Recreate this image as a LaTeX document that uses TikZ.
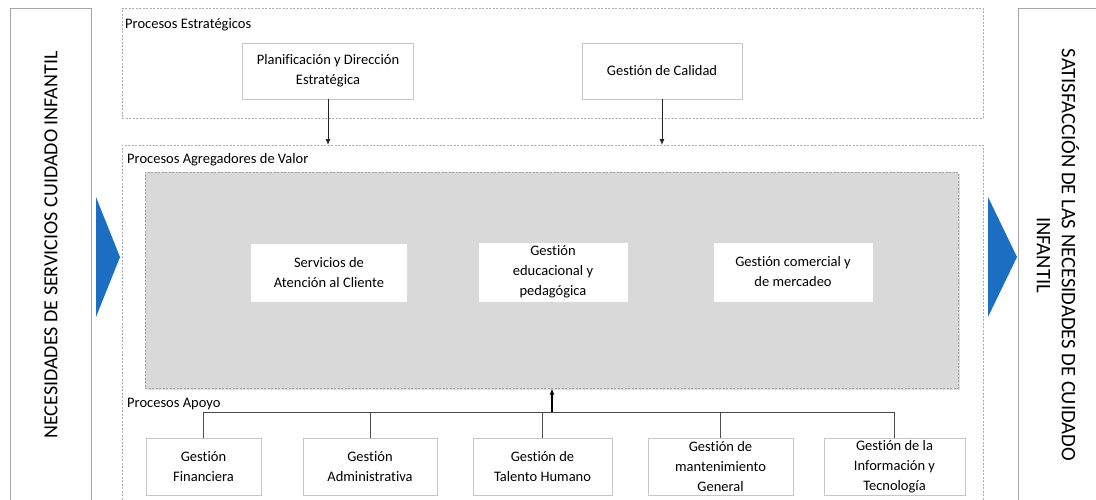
\documentclass[tikz,border=0pt]{standalone}
\usepackage{fontspec}
\setmainfont{Carlito}[Ligatures={NoCommon}]
\usetikzlibrary{arrows.meta,shadows}
\definecolor{bgray}{HTML}{D9D9D9}
\definecolor{dgray}{HTML}{ABABAB}
\definecolor{bluearr}{HTML}{1B6EC2}
\begin{document}
\begin{tikzpicture}[x=1pt,y=-1pt,
  dashedbox/.style={draw=dgray, line width=0.6pt, dash pattern=on 2pt off 1.5pt, rectangle, inner sep=0pt},
  sidebox/.style={draw=gray!70, line width=0.8pt, rectangle, inner sep=0pt, fill=white},
  procbox/.style={draw=gray!45, line width=0.8pt, fill=white, rectangle, align=center, inner sep=2pt,
    font=\fontsize{14.5}{19.8}\selectfont},
  valbox/.style={fill=white, rectangle, align=center, inner sep=2pt, font=\fontsize{14.5}{20}\selectfont},
  grouplabel/.style={anchor=base west, inner sep=0pt, font=\fontsize{14.5}{18}\selectfont},
  sidetext/.style={align=center, inner sep=0pt, font=\fontsize{20}{25}\selectfont},
  conn/.style={draw=black!70, line width=0.9pt},
  arr/.style={draw=black!85, line width=0.9pt, -{Latex[length=6pt,width=5pt]}}
]
\useasboundingbox (0,0) rectangle (1096,499);

% side boxes
\node[sidebox, anchor=north west, minimum width=81pt, minimum height=500pt] (leftbox) at (10,8) {};
\node[sidebox, anchor=north west, minimum width=90pt, minimum height=500pt] (rightbox) at (1018,8) {};
\node[sidetext, rotate=90] (lefttext) at (51,245) {NECESIDADES DE SERVICIOS CUIDADO INFANTIL};
\node[sidetext, rotate=-90, font=\fontsize{20.6}{25}\selectfont] (righttext) at (1058,255) {SATISFACCIÓN DE LAS NECESIDADES DE CUIDADO\\INFANTIL};

% blue triangles
\fill[bluearr] (96,197) -- (120,257) -- (96,317) -- cycle;
\fill[bluearr] (988,197) -- (1017,257) -- (988,317) -- cycle;

% group containers
\node[dashedbox, anchor=north west, minimum width=861pt, minimum height=110pt] (strat) at (122,8) {};
\node[dashedbox, anchor=north west, minimum width=861pt, minimum height=365pt] (value) at (122,145) {};
\node[grouplabel] (stratlabel) at (125,28) {Procesos Estratégicos};
\node[grouplabel] (valuelabel) at (127,163) {Procesos Agregadores de Valor};
\node[grouplabel] (apoyolabel) at (127,407) {Procesos Apoyo};

% strategic processes
\node[procbox, minimum width=171pt, minimum height=56pt] (plan) at (328,71) {Planificación y Dirección\\Estratégica};
\node[procbox, minimum width=160pt, minimum height=56pt] (cal) at (662,71) {Gestión de Calidad};
\draw[arr] (plan.south) -- (plan.south |- value.north);
\draw[arr] (cal.south) -- (cal.south |- value.north);

% value-adding processes
\node[dashedbox, draw=gray!75, fill=bgray, anchor=north west, minimum width=813pt, minimum height=216pt,
  drop shadow={shadow xshift=1.5pt, shadow yshift=-1.5pt, opacity=0.25}] (core) at (145,172) {};
\node[valbox, minimum width=156pt, minimum height=58pt] (serv) at (329,273) {Servicios de\\Atención al Cliente};
\node[valbox, minimum width=149pt, minimum height=59pt] (edu) at (553,272) {Gestión\\educacional y\\pedagógica};
\node[valbox, minimum width=159pt, minimum height=59pt] (com) at (793,272) {Gestión comercial y\\de mercadeo};

% support processes
\node[procbox, minimum width=115pt, minimum height=57pt] (fin) at (203.5,466.5) {Gestión\\Financiera};
\node[procbox, minimum width=134pt, minimum height=57pt] (adm) at (370,466.5) {Gestión\\Administrativa};
\node[procbox, minimum width=139pt, minimum height=57pt] (tal) at (542.5,466.5) {Gestión de\\Talento Humano};
\node[procbox, minimum width=145pt, minimum height=57pt] (man) at (720.5,466.5) {Gestión de\\mantenimiento\\General};
\node[procbox, minimum width=141pt, minimum height=57pt] (inf) at (894.5,466.5) {Gestión de la\\Información y\\Tecnología};

\coordinate (bus) at (552,412);
\draw[conn] (fin.north) |- (bus);
\draw[conn] (adm.north) |- (bus);
\draw[conn] (tal.north) |- (bus);
\draw[conn] (man.north) |- (bus);
\draw[conn] (inf.north) |- (bus);
\draw[arr, draw=black, line width=1.2pt] (bus) -- (bus |- core.south);
\end{tikzpicture}
\end{document}
